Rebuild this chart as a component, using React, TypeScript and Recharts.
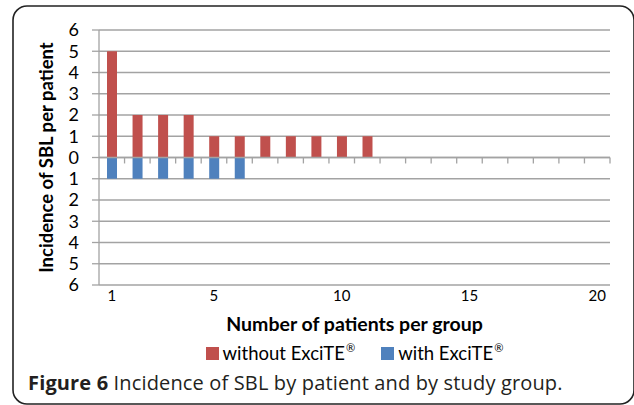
import React from 'react';
import { BarChart, Bar, XAxis, YAxis, CartesianGrid, ReferenceLine, Legend } from 'recharts';

const patients: number[] = [1, 2, 3, 4, 5, 6, 7, 8, 9, 10, 11, 12, 13, 14, 15, 16, 17, 18, 19, 20];
const withoutExcite: number[] = [5, 2, 2, 2, 1, 1, 1, 1, 1, 1, 1, 0, 0, 0, 0, 0, 0, 0, 0, 0];
const withExcite: number[] = [1, 1, 1, 1, 1, 1, 0, 0, 0, 0, 0, 0, 0, 0, 0, 0, 0, 0, 0, 0];
const xTickLabels: number[] = [1, 5, 10, 15, 20];
const yTicks: number[] = [-6, -5, -4, -3, -2, -1, 0, 1, 2, 3, 4, 5, 6];
const boundaryTicks: number[] = [1.5, 2.5, 3.5, 4.5, 5.5, 6.5, 7.5, 8.5, 9.5, 10.5, 11.5, 12.5, 13.5, 14.5, 15.5, 16.5, 17.5, 18.5, 19.5, 20.5];

const RED = '#C0504D';
const BLUE = '#4F81BD';
const GRID = '#a3a3a3';
const FONT = 'Lato, "Open Sans", sans-serif';

const data = patients.map((p, i) => ({
  patient: p,
  without: withoutExcite[i] || null,
  with: withExcite[i] ? -withExcite[i] : null,
}));

const legendItems = [
  { label: 'without ExciTE', color: RED },
  { label: 'with ExciTE', color: BLUE },
];

const LegendContent = () => (
  <div style={{ height: 20, display: 'flex', justifyContent: 'center', alignItems: 'center', fontFamily: FONT, fontSize: 18.5, color: '#000' }}>
    {legendItems.map((it, i) => (
      <div key={i} style={{ display: 'flex', alignItems: 'center', marginRight: i === 0 ? 26 : 0 }}>
        <span style={{ display: 'inline-block', width: 13, height: 13, background: it.color, marginRight: 4 }} />
        <span>
          {it.label}
          <span style={{ fontSize: '0.6em', position: 'relative', top: '-0.7em', marginLeft: 1 }}>®</span>
        </span>
      </div>
    ))}
  </div>
);

export default function App() {
  return (
    <div style={{ position: 'absolute', left: 0, top: 0, width: 634, height: 405, background: '#fff', overflow: 'hidden' }}>
      <svg width={634} height={405} style={{ position: 'absolute', left: 0, top: 0 }}>
        <rect x={13} y={6} width={621} height={398} rx={14} ry={14} fill="none" stroke="#222" strokeWidth={1.6} />
      </svg>
      <div style={{ position: 'absolute', left: 0, top: 0 }}>
        <BarChart
          width={634}
          height={370}
          data={data}
          stackOffset="sign"
          margin={{ top: 30, right: 24, left: 0, bottom: 0 }}
        >
          <CartesianGrid horizontal vertical={false} stroke={GRID} strokeWidth={1.3} />
          <XAxis
            dataKey="patient"
            type="number"
            domain={[0.5, 20.5]}
            ticks={xTickLabels}
            allowDataOverflow
            axisLine={false}
            tickLine={false}
            tickSize={0}
            tickMargin={5}
            height={65}
            tick={{ fill: '#000', fontSize: 15, fontFamily: FONT }}
            label={{ value: 'Number of patients per group', position: 'insideBottom', offset: 19, fill: '#000', fontSize: 19.5, fontWeight: 'bold', fontFamily: FONT }}
          />
          <YAxis
            type="number"
            domain={[-6, 6]}
            ticks={yTicks}
            interval={0}
            width={99}
            tickFormatter={(v: number) => String(Math.abs(v))}
            tickSize={7}
            tickMargin={13}
            axisLine={{ stroke: GRID, strokeWidth: 1.3 }}
            tickLine={{ stroke: GRID, strokeWidth: 1.3 }}
            tick={{ fill: '#000', fontSize: 18, fontFamily: FONT }}
            label={{ value: 'Incidence of SBL per patient', angle: -90, position: 'center', dx: -3, fill: '#000', fontSize: 18.5, fontWeight: 'bold', fontFamily: FONT }}
          />
          <Bar dataKey="without" stackId="a" fill={RED} barSize={10} isAnimationActive={false} />
          <Bar dataKey="with" stackId="a" fill={BLUE} barSize={10} isAnimationActive={false} />
          <ReferenceLine y={0} stroke={GRID} strokeWidth={1.3} />
          {boundaryTicks.map((b) => (
            <ReferenceLine
              key={b}
              segment={[{ x: b, y: 0 }, { x: b, y: -0.28 }]}
              stroke={GRID}
              strokeWidth={1.3}
            />
          ))}
          <Legend
            verticalAlign="bottom"
            content={<LegendContent />}
            wrapperStyle={{ position: 'absolute', top: 343, left: 99, width: 511 }}
          />
        </BarChart>
      </div>
      <div style={{ position: 'absolute', left: 28, top: 373, fontFamily: '"Open Sans", sans-serif', fontSize: 20, letterSpacing: 0.15, lineHeight: '20px', color: '#231f20', whiteSpace: 'nowrap' }}>
        <span style={{ fontWeight: 'bold' }}>Figure 6</span> Incidence of SBL by patient and by study group.
      </div>
    </div>
  );
}
